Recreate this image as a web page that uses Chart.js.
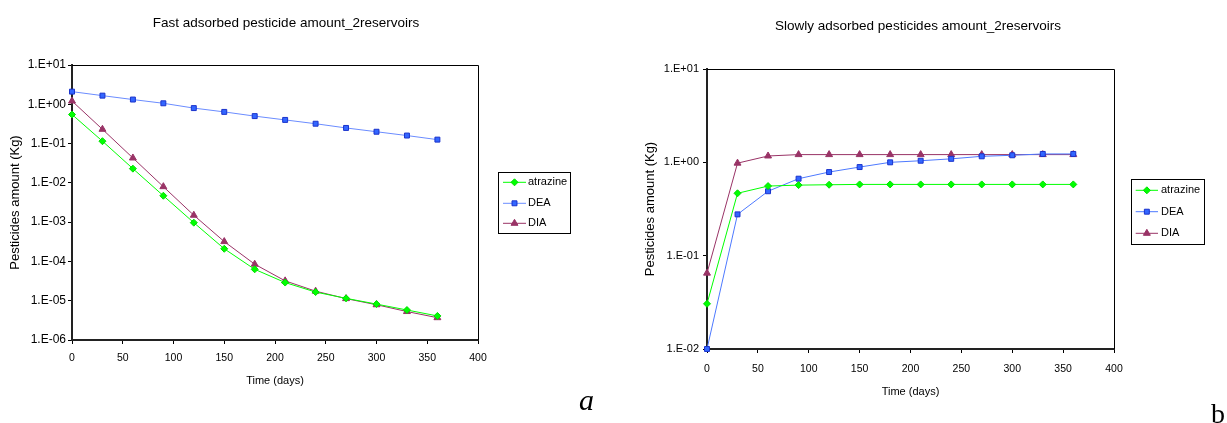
<!DOCTYPE html>
<html><head><meta charset="utf-8">
<script src="https://cdn.jsdelivr.net/npm/chart.js@4.4.1/dist/chart.umd.min.js"></script>
<style>
html,body{margin:0;padding:0;background:#fff;width:1227px;height:423px;overflow:hidden;position:relative}
#ca{position:absolute;left:0;top:0}
#cb{position:absolute;left:610px;top:0}
.lab{position:absolute;font-family:"Liberation Serif","Times New Roman",serif;color:#000;line-height:1}
#la{left:579px;top:385px;font-size:30px;font-style:italic}
#lb{left:1211px;top:400px;font-size:28px}
</style></head><body>
<canvas id="ca" width="610" height="423"></canvas>
<canvas id="cb" width="617" height="423"></canvas>
<div class="lab" id="la">a</div><div class="lab" id="lb">b</div>
<script>
// ---------- data ----------
const days = [0,30,60,90,120,150,180,210,240,270,300,330,360];
const seriesNames = ['atrazine','DEA','DIA'];
const fastAtrazine = [0.55,0.115,0.023,0.0047,0.00097,0.00021,0.000063,0.000029,0.0000166,0.0000115,0.0000082,0.0000058,0.0000041];
const fastDEA = [2.1,1.66,1.32,1.06,0.80,0.64,0.50,0.40,0.32,0.25,0.20,0.16,0.126];
const fastDIA = [1.21,0.231,0.043,0.0080,0.0015,0.00032,0.000085,0.000032,0.0000175,0.0000113,0.0000079,0.0000053,0.0000037];
const slowAtrazine = [0.0305,0.466,0.557,0.57,0.575,0.58,0.58,0.58,0.58,0.58,0.58,0.58,0.58];
const slowDEA = [0.01,0.277,0.49,0.668,0.787,0.89,1.0,1.04,1.09,1.16,1.19,1.23,1.23];
const slowDIA = [0.065,0.98,1.17,1.21,1.21,1.21,1.21,1.21,1.21,1.21,1.21,1.21,1.21];
const xTicks = [0,50,100,150,200,250,300,350,400];
const fastYTicks = [1e-6,1e-5,1e-4,1e-3,1e-2,1e-1,1,10];
const slowYTicks = [1e-2,1e-1,1,10];
const fastTitle = 'Fast adsorbed pesticide amount_2reservoirs';
const slowTitle = 'Slowly adsorbed pesticides amount_2reservoirs';
const xTitle = 'Time (days)';
const yTitle = 'Pesticides amount (Kg)';

// ---------- rendering ----------
const FONT = '"Liberation Sans", Arial, sans-serif';
const pts = arr => days.map((d,i)=>({x:d,y:arr[i]}));
const fmtExp = v => { const e = Math.round(Math.log10(v)); return '1.E' + (e<0?'-':'+') + String(Math.abs(e)).padStart(2,'0'); };

function makeDatasets(a, dea, dia, deaLine){
  return [
    {label:seriesNames[0], data:pts(a), borderColor:'#00ff00', borderWidth:1, pointStyle:'rectRot', pointRadius:3.5,
     pointBackgroundColor:'#00ff00', pointBorderColor:'#00dd00', pointBorderWidth:1, tension:0, clip:false},
    {label:seriesNames[1], data:pts(dea), borderColor:deaLine, borderWidth:1, pointStyle:'rect', pointRadius:3.5,
     pointBackgroundColor:'#3366ff', pointBorderColor:'#1a33cc', pointBorderWidth:1, tension:0, clip:false},
    {label:seriesNames[2], data:pts(dia), borderColor:'#993366', borderWidth:1, pointStyle:'triangle', pointRadius:4,
     pointBackgroundColor:'#993366', pointBorderColor:'#993366', pointBorderWidth:1, tension:0, clip:false}
  ];
}

const overlay = {
  id:'overlay',
  afterDraw(chart, args, o){
    const ctx = chart.ctx, a = chart.chartArea;
    ctx.save();
    ctx.strokeStyle = '#000'; ctx.lineWidth = 1;
    ctx.beginPath();
    ctx.moveTo(a.left, Math.round(a.top)+0.5);
    ctx.lineTo(Math.round(a.right)+0.5, Math.round(a.top)+0.5);
    ctx.lineTo(Math.round(a.right)+0.5, a.bottom);
    ctx.stroke();
    ctx.fillStyle = '#000';
    ctx.font = o.titleSize + 'px ' + FONT;
    ctx.textAlign = 'center'; ctx.textBaseline = 'middle';
    ctx.fillText(o.title, o.titleX, o.titleY);
    const L = o.legend;
    ctx.strokeStyle = '#000'; ctx.lineWidth = 1;
    ctx.strokeRect(L.x+0.5, L.y+0.5, L.w, L.h);
    chart.data.datasets.forEach((ds,i)=>{
      const y = L.rows[i];
      ctx.strokeStyle = ds.borderColor; ctx.lineWidth = ds.borderWidth;
      ctx.beginPath(); ctx.moveTo(L.x1, y); ctx.lineTo(L.x2, y); ctx.stroke();
      ctx.fillStyle = ds.pointBackgroundColor; ctx.strokeStyle = ds.pointBorderColor; ctx.lineWidth = 1;
      Chart.helpers.drawPoint(ctx, {pointStyle:ds.pointStyle, rotation:0, radius:ds.pointRadius, borderWidth:1}, (L.x1+L.x2)/2, y);
      ctx.fillStyle = '#000'; ctx.font = '11px ' + FONT; ctx.textAlign = 'left'; ctx.textBaseline = 'middle';
      ctx.fillText(ds.label, L.tx, y);
    });
    ctx.restore();
  }
};

function makeChart(id, cfg){
  return new Chart(document.getElementById(id), {
    type:'line',
    data:{datasets:cfg.datasets},
    plugins:[overlay],
    options:{
      responsive:false, animation:false, devicePixelRatio:1,
      layout:{padding:{top:cfg.top, right:cfg.right, bottom:0, left:0}},
      plugins:{legend:{display:false}, title:{display:false}, tooltip:{enabled:false}, overlay:cfg.overlay},
      scales:{
        x:{type:'linear', min:0, max:400,
          afterBuildTicks:s=>{s.ticks = xTicks.map(v=>({value:v}));},
          afterFit:s=>{s.height = cfg.xH;},
          ticks:{font:{family:FONT,size:10.5}, color:'#000', padding:cfg.xPad, maxRotation:0, autoSkip:false},
          grid:{display:true, drawOnChartArea:false, drawTicks:true, tickLength:4, color:'#000', lineWidth:1},
          border:{display:true, color:'#222', width:2},
          title:{display:true, text:xTitle, font:{family:FONT,size:11}, color:'#000', padding:{top:0,bottom:cfg.xTitleBottom}}
        },
        y:{type:'logarithmic', min:cfg.yTicks[0], max:cfg.yTicks[cfg.yTicks.length-1],
          afterBuildTicks:s=>{s.ticks = cfg.yTicks.map(v=>({value:v}));},
          afterFit:s=>{s.width = cfg.yW;},
          ticks:{font:{family:FONT,size:cfg.yFont}, color:'#000', padding:cfg.yPad, autoSkip:false, callback:v=>fmtExp(v)},
          grid:{display:true, drawOnChartArea:false, drawTicks:true, tickLength:4, color:'#000', lineWidth:1},
          border:{display:true, color:'#222', width:2},
          title:{display:true, text:yTitle, font:{family:FONT,size:13}, color:'#000', padding:{top:cfg.yTitleTop,bottom:0}}
        }
      }
    }
  });
}

makeChart('ca', {
  datasets: makeDatasets(fastAtrazine, fastDEA, fastDIA, '#6b8cff'),
  yTicks: fastYTicks, top:65, right:610-478, xH:423-340, yW:72, xPad:8, yPad:2, yFont:12,
  xTitleBottom:35.7, yTitleTop:7.2,
  overlay:{title:fastTitle, titleSize:13.5, titleX:286, titleY:23.3,
    legend:{x:498, y:172, w:72, h:61, x1:503, x2:526, tx:528, rows:[182.3,203.3,223.3]}}
});
makeChart('cb', {
  datasets: makeDatasets(slowAtrazine, slowDEA, slowDIA, '#4d79ff'),
  yTicks: slowYTicks, top:69, right:617-504, xH:423-349, yW:97, xPad:9.5, yPad:4, yFont:11,
  xTitleBottom:24.7, yTitleTop:32.2,
  overlay:{title:slowTitle, titleSize:13.5, titleX:308, titleY:26.7,
    legend:{x:521, y:179, w:73, h:65, x1:525.7, x2:548, tx:551, rows:[190.3,211.7,233.3]}}
});
</script>
</body></html>
